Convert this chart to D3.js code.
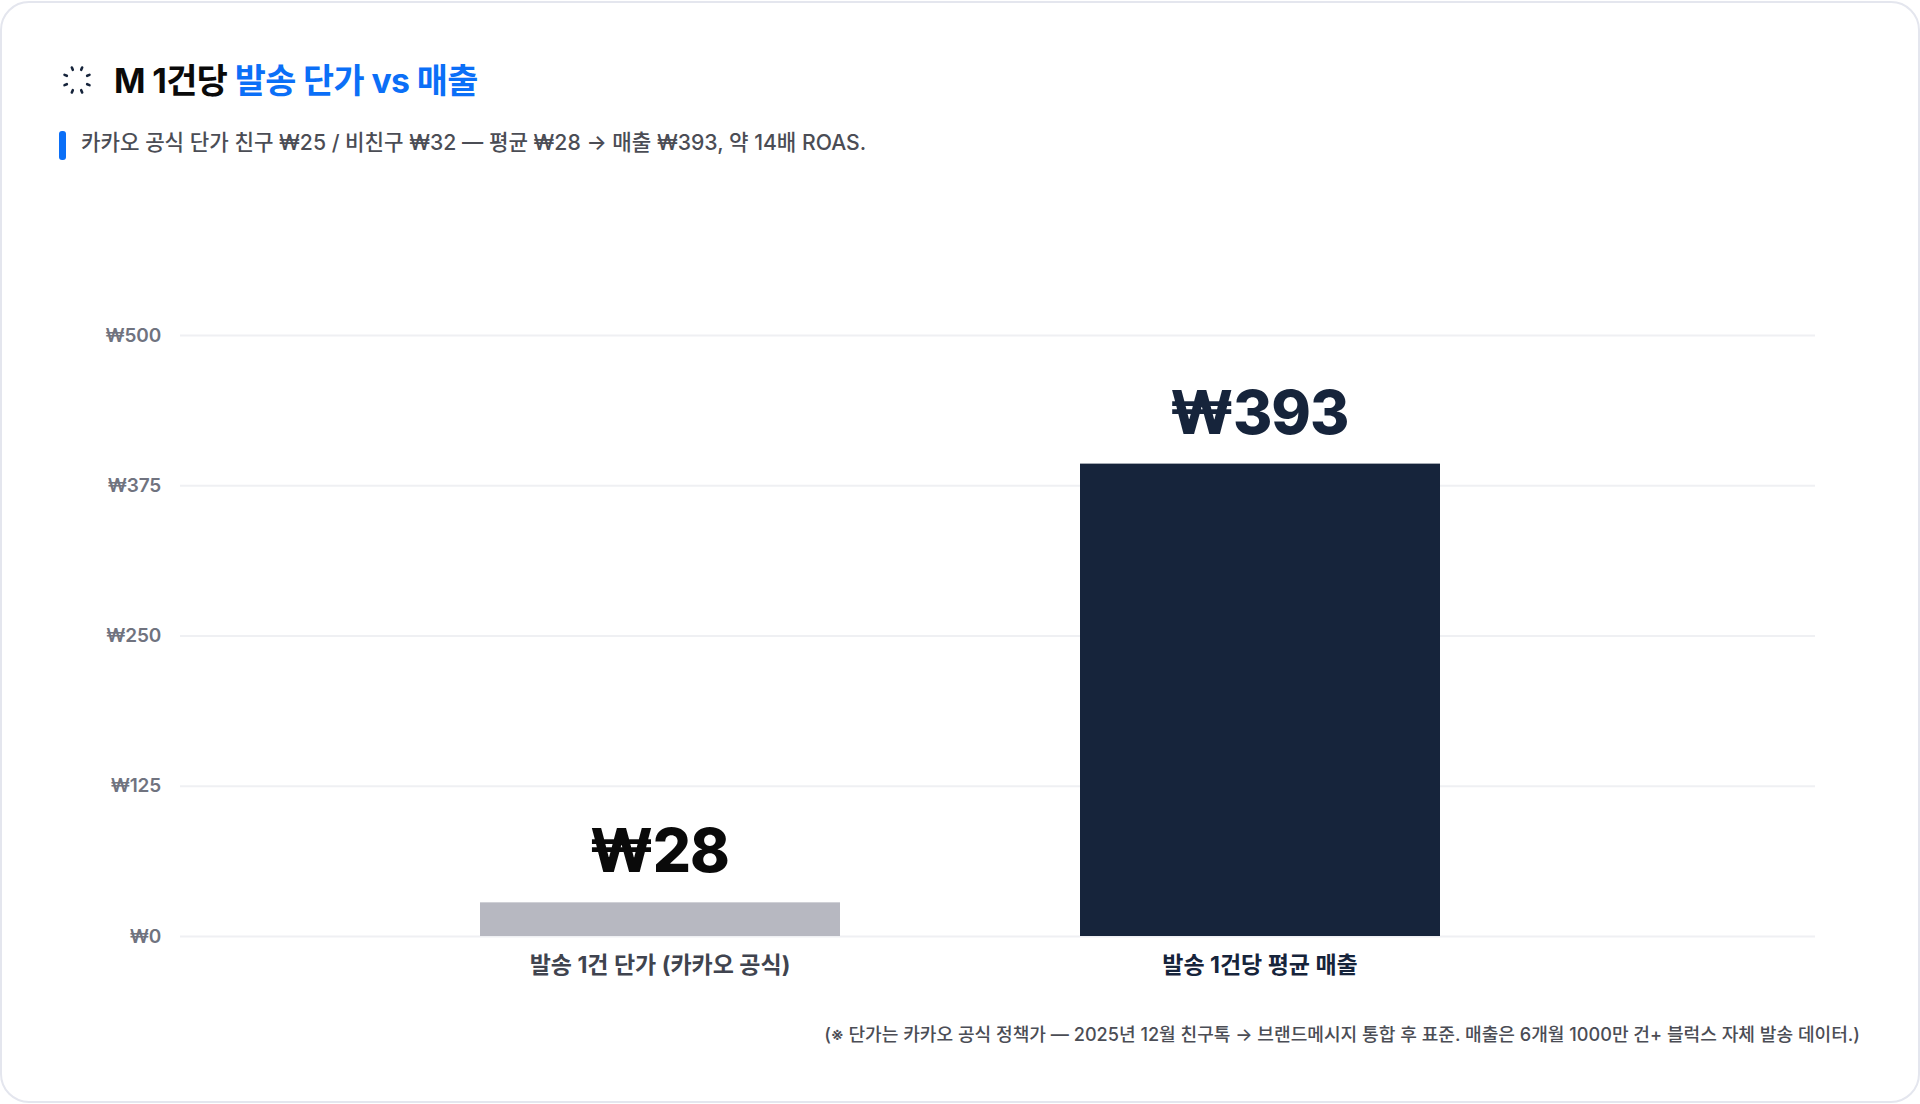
<!DOCTYPE html>
<html lang="ko">
<head>
<meta charset="utf-8">
<script src="https://cdn.jsdelivr.net/npm/d3@7"></script>
<style>
	html, body { margin: 0; padding: 0; background: #fff; }
	svg { display: block; }
	text { font-family: Inter, "Noto Sans CJK KR", sans-serif; }
</style>
</head>
<body>
<script>
const w = 1920;
const h = 1104;

// * DATA
const categories = ["발송 1건 단가 (카카오 공식)", "발송 1건당 평균 매출"];
const values = [28, 393];
const barColors = ["#b7b8c1", "#16243b"];
const valueColors = ["#0a0a0a", "#16243b"];
const yTicks = [0, 125, 250, 375, 500];
const titleParts = [
	{ text: "M 1건당 ", color: "#0a0a0a" },
	{ text: "발송 단가 vs 매출", color: "#0b6ff7" },
];
const subtitle = "카카오 공식 단가 친구 ₩25 / 비친구 ₩32 — 평균 ₩28 → 매출 ₩393, 약 14배 ROAS.";
const footnote = "(※ 단가는 카카오 공식 정책가 — 2025년 12월 친구톡 → 브랜드메시지 통합 후 표준. 매출은 6개월 1000만 건+ 블럭스 자체 발송 데이터.)";
const iconAngles = [22.5, 67.5, 112.5, 157.5, 202.5, 247.5, 292.5, 337.5];

const svg = d3.select("body").append("svg").attr("width", w).attr("height", h);

// * CARD
svg.append("rect")
	.attr("x", 1)
	.attr("y", 2)
	.attr("width", w - 2)
	.attr("height", h - 4)
	.attr("rx", 28)
	.attr("fill", "#fff")
	.attr("stroke", "#e4e6ee")
	.attr("stroke-width", 2);

// * HEADER
svg.append("g")
	.attr("transform", "translate(77,80)")
	.selectAll("line")
	.data(iconAngles)
	.enter()
	.append("line")
	.attr("x1", (d) => 11 * Math.cos((d * Math.PI) / 180))
	.attr("y1", (d) => 11 * Math.sin((d * Math.PI) / 180))
	.attr("x2", (d) => 13.5 * Math.cos((d * Math.PI) / 180))
	.attr("y2", (d) => 13.5 * Math.sin((d * Math.PI) / 180))
	.attr("stroke", "#16243b")
	.attr("stroke-width", 2.6)
	.attr("stroke-linecap", "round");

svg.append("text")
	.attr("x", 114)
	.attr("y", 93)
	.attr("font-size", 33.8)
	.attr("font-weight", 700)
	.attr("letter-spacing", -0.6)
	.selectAll("tspan")
	.data(titleParts)
	.enter()
	.append("tspan")
	.attr("fill", (d) => d.color)
	.attr("xml:space", "preserve")
	.text((d) => d.text);

svg.append("rect")
	.attr("x", 59)
	.attr("y", 131)
	.attr("width", 7)
	.attr("height", 29)
	.attr("rx", 3)
	.attr("fill", "#0b6ff7");

svg.append("text")
	.attr("x", 81)
	.attr("y", 150)
	.attr("font-size", 21.2)
	.attr("font-weight", 500)
	.attr("fill", "#4b4d55")
	.text(subtitle);

// * SCALES
const xScale = d3
	.scaleBand()
	.domain(categories)
	.range([360, 1560])
	.paddingInner(0.4)
	.paddingOuter(0.2);
const yScale = d3.scaleLinear().domain([0, 500]).range([936, 335]);

// * GRID + AXES
const yAxis = d3
	.axisLeft(yScale)
	.tickValues(yTicks)
	.tickSize(-(1815 - 180))
	.tickPadding(19)
	.tickFormat((d) => "₩" + d);
const yG = svg.append("g").attr("transform", "translate(180,0)").call(yAxis);
yG.select(".domain").remove();
yG.selectAll(".tick line").attr("stroke", "#eff0f3").attr("stroke-width", 2);
yG.selectAll(".tick text")
	.attr("fill", "#70737f")
	.attr("font-size", 19)
	.attr("font-weight", 600)
	.attr("letter-spacing", -0.2)
	.style("font-family", 'Inter, "Noto Sans CJK KR", sans-serif');

const xAxis = d3.axisBottom(xScale).tickSize(0).tickPadding(20);
const xG = svg.append("g").attr("transform", "translate(0,936.5)").call(xAxis);
xG.select(".domain").remove();
xG.selectAll(".tick text")
	.attr("fill", (d, i) => (i === 0 ? "#40444f" : "#16243b"))
	.attr("font-size", 23)
	.attr("font-weight", 700)
	.style("font-family", 'Inter, "Noto Sans CJK KR", sans-serif');

// * BARS
svg.selectAll("rect.bar")
	.data(values)
	.enter()
	.append("rect")
	.attr("class", "bar")
	.attr("x", (d, i) => xScale(categories[i]))
	.attr("y", (d) => yScale(d))
	.attr("width", xScale.bandwidth())
	.attr("height", (d) => yScale(0) - yScale(d))
	.attr("fill", (d, i) => barColors[i]);

svg.selectAll("text.value")
	.data(values)
	.enter()
	.append("text")
	.attr("class", "value")
	.attr("x", (d, i) => xScale(categories[i]) + xScale.bandwidth() / 2 - 1)
	.attr("y", (d) => yScale(d) - 30)
	.attr("text-anchor", "middle")
	.attr("font-size", 60)
	.attr("font-weight", 800)
	.attr("letter-spacing", -1)
	.attr("fill", (d, i) => valueColors[i])
	.text((d) => "₩" + d);

// * FOOTNOTE
svg.append("text")
	.attr("x", 1860)
	.attr("y", 1041)
	.attr("text-anchor", "end")
	.attr("font-size", 18.1)
	.attr("font-weight", 500)
	.attr("fill", "#4b4d55")
	.text(footnote);
</script>
</body>
</html>
